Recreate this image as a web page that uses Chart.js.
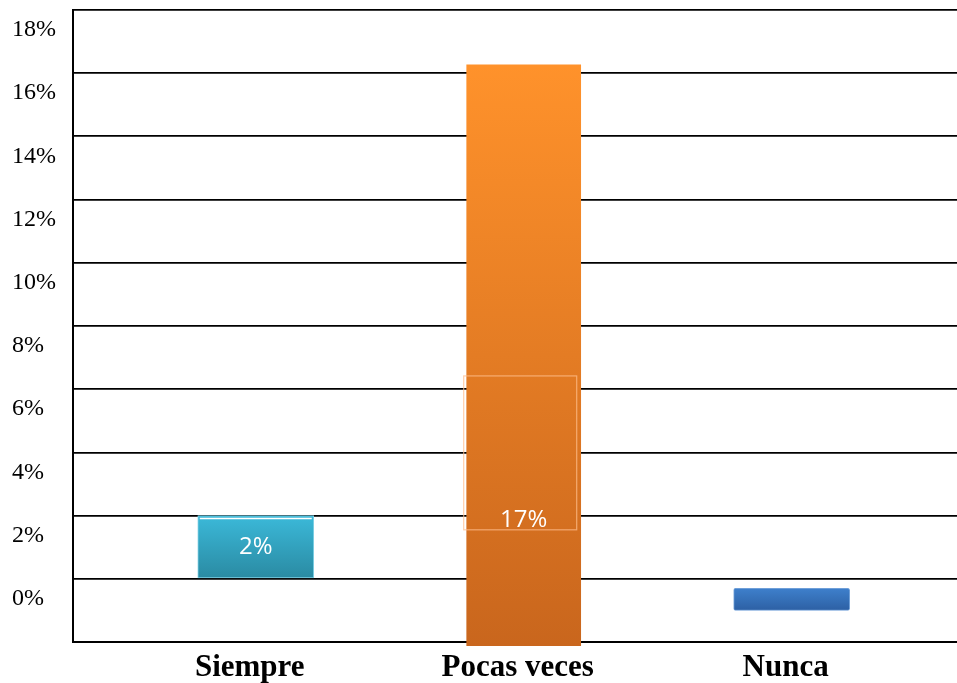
<!DOCTYPE html>
<html><head><meta charset="utf-8">
<script src="https://cdn.jsdelivr.net/npm/chart.js@4"></script>
<style>html,body{margin:0;padding:0;background:#fff}#wrap{width:957px;height:683px;position:relative}</style>
</head><body><div id="wrap"><canvas id="c"></canvas></div>
<script>
const categories = ['Siempre', 'Pocas veces', 'Nunca'];
const barStarts = [0, -2.15, -1.0];
const barEnds = [2.0, 16.3, -0.3];
const valueLabels = ['2%', '17%', ''];
const labelValues = [1.0, 1.85, null];
const labelBoxes = [null, [1.55, 6.42], null];
const topColors = ['#3bb9d9', '#ff922b', '#3e80cc'];
const bottomColors = ['#2a8aa2', '#c9661d', '#2d60a4'];
const borderColors = ['#7fd0e4', 'rgba(0,0,0,0)', '#6f9fd8'];

const barData = categories.map((c, i) => ({ x: i, y: [barStarts[i], barEnds[i]] }));

function grad(ctx) {
  const chart = ctx.chart;
  if (!chart.chartArea) return topColors[ctx.dataIndex];
  const i = ctx.dataIndex;
  const ys = chart.scales.y;
  const t = ys.getPixelForValue(barEnds[i]);
  const b = ys.getPixelForValue(barStarts[i]);
  const g = chart.ctx.createLinearGradient(0, t, 0, b);
  g.addColorStop(0, topColors[i]);
  g.addColorStop(1, bottomColors[i]);
  return g;
}

const labelPlugin = {
  id: 'labels',
  afterDatasetsDraw(chart) {
    const ctx = chart.ctx;
    const meta = chart.getDatasetMeta(0);
    const ys = chart.scales.y;
    ctx.save();
    meta.data.forEach((bar, i) => {
      const half = bar.width / 2;
      if (i === 0) {
        ctx.strokeStyle = '#ffffff';
        ctx.lineWidth = 1.5;
        ctx.beginPath();
        ctx.moveTo(bar.x - half + 2, bar.y + 3);
        ctx.lineTo(bar.x + half - 2, bar.y + 3);
        ctx.stroke();
      }
      if (labelBoxes[i]) {
        const y1 = ys.getPixelForValue(labelBoxes[i][1]);
        const y0 = ys.getPixelForValue(labelBoxes[i][0]);
        ctx.strokeStyle = 'rgba(255,190,140,0.75)';
        ctx.lineWidth = 1.2;
        ctx.strokeRect(bar.x - half - 2, y1, bar.width - 3, y0 - y1);
      }
      if (labelValues[i] !== null && valueLabels[i]) {
        ctx.fillStyle = '#ffffff';
        ctx.font = '24px "Open Sans", sans-serif';
        ctx.textAlign = 'center';
        ctx.textBaseline = 'middle';
        ctx.fillText(valueLabels[i], bar.x, ys.getPixelForValue(labelValues[i]));
      }
    });
    ctx.restore();
  }
};

new Chart(document.getElementById('c'), {
  type: 'bar',
  data: {
    datasets: [{
      data: barData,
      backgroundColor: grad,
      borderColor: borderColors,
      borderWidth: 1,
      borderSkipped: false,
      borderRadius: [0, 0, 2],
      barThickness: 116,
      clip: false
    }]
  },
  options: {
    responsive: true,
    maintainAspectRatio: false,
    animation: false,
    layout: { padding: { top: 10, left: 12, right: 0, bottom: 0 } },
    plugins: { legend: { display: false }, tooltip: { enabled: false } },
    scales: {
      x: {
        type: 'linear',
        offset: false,
        min: -0.682,
        max: 2.617,
        grid: { display: false },
        border: { display: true, color: '#000', width: 2 },
        afterBuildTicks: s => { s.ticks = categories.map((c, i) => ({ value: i })); },
        afterFit: s => { s.height = 41; s.paddingLeft = 0; s.paddingRight = 0; },
        ticks: {
          callback: v => categories[v],
          color: '#000',
          padding: -1,
          labelOffset: -6,
          maxRotation: 0,
          autoSkip: false,
          font: { family: '"Liberation Serif", "Times New Roman", serif', size: 31, weight: 'bold' }
        }
      },
      y: {
        min: -2,
        max: 18,
        grid: { color: '#000', lineWidth: 1.8, drawTicks: false },
        border: { display: true, color: '#000', width: 2 },
        afterFit: s => { s.width = 61; s.paddingTop = 0; s.paddingBottom = 0; },
        ticks: {
          stepSize: 2,
          crossAlign: 'far',
          labelOffset: 20,
          color: '#000',
          callback: v => v >= 0 ? v + '%' : '',
          font: { family: '"Liberation Serif", "Times New Roman", serif', size: 24 }
        }
      }
    }
  },
  plugins: [labelPlugin]
});
</script></body></html>
